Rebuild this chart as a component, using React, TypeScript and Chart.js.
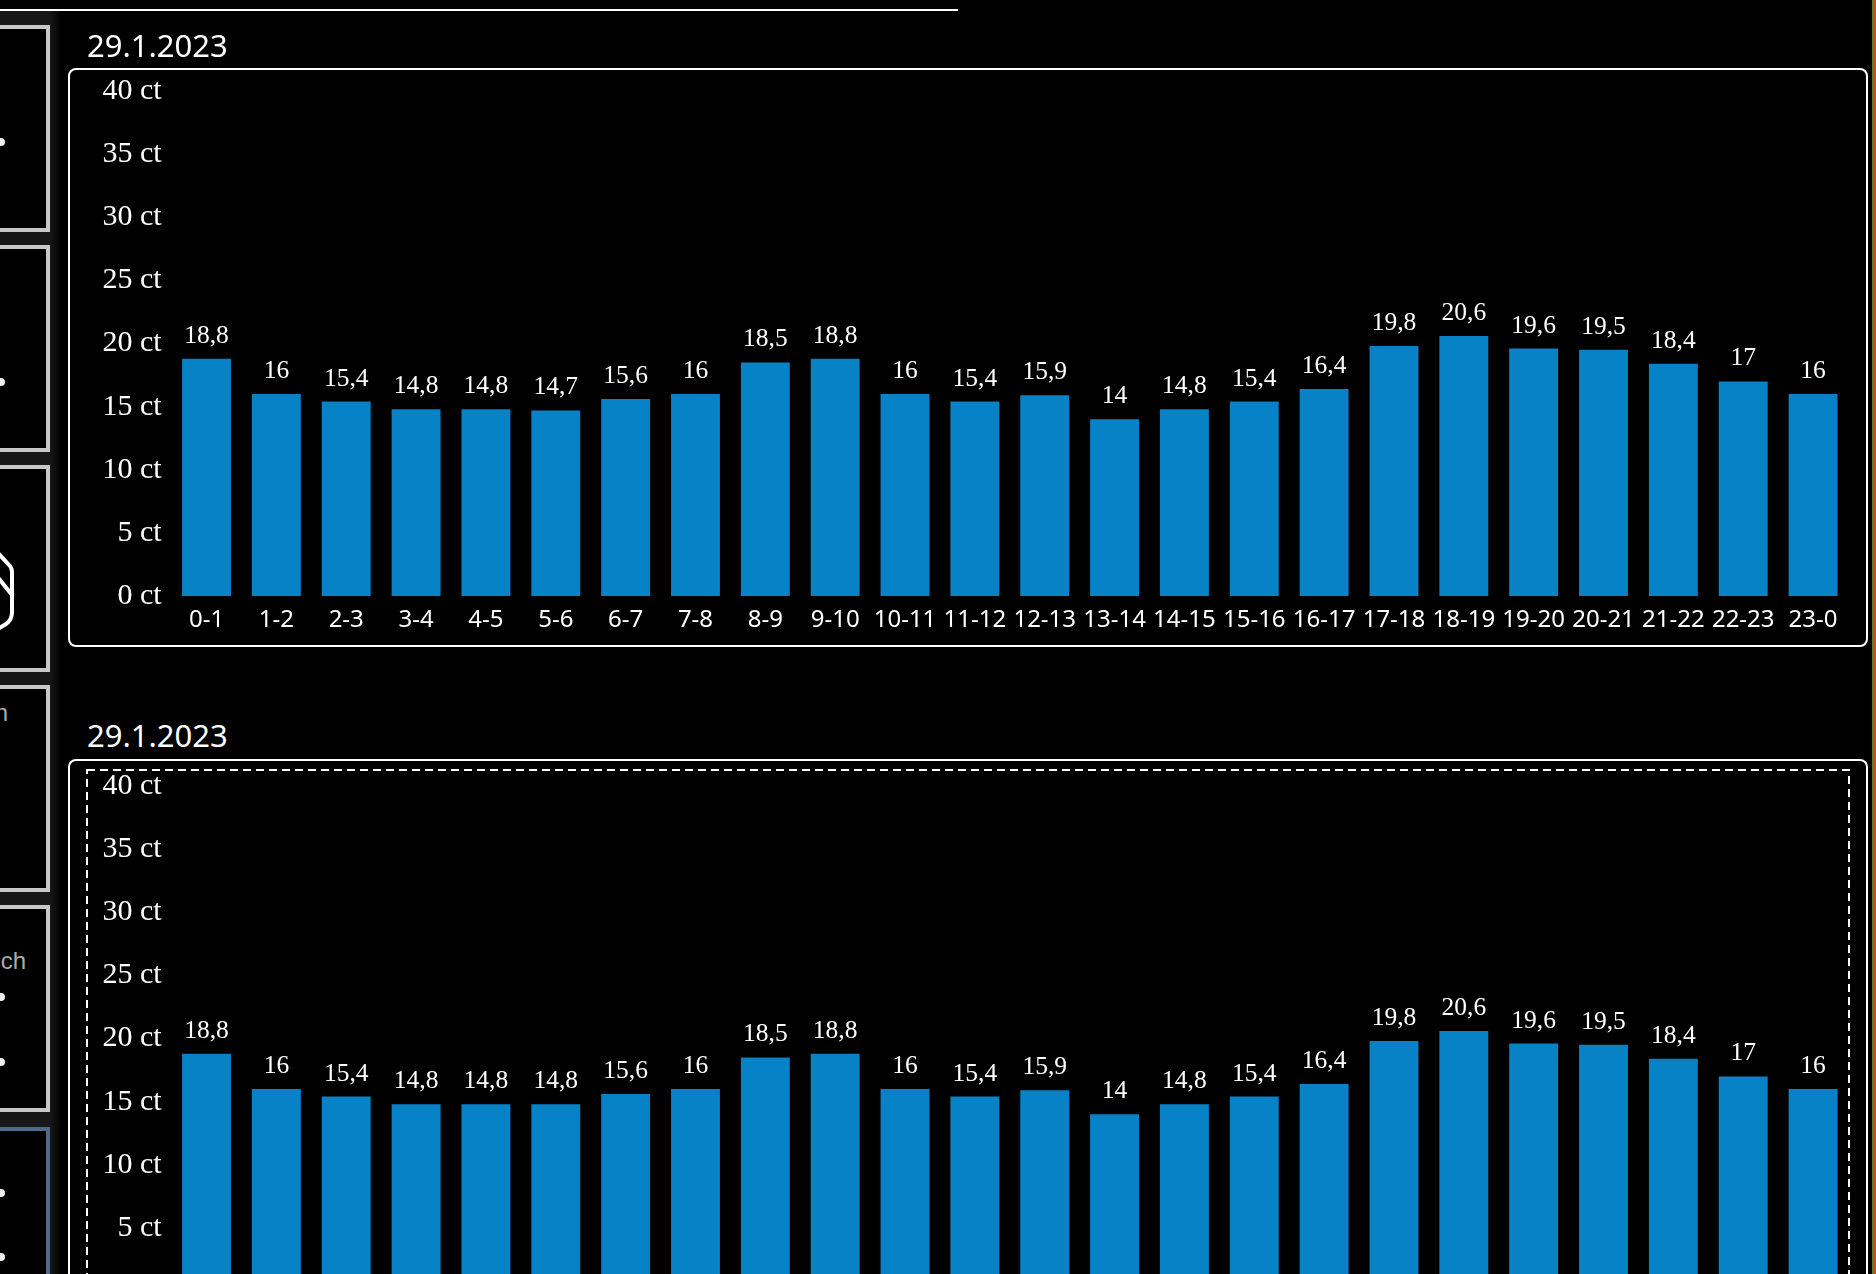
import React, { useEffect, useRef } from "react";
import { Chart, registerables } from "chart.js";

Chart.register(...registerables);

const hours = ["0-1","1-2","2-3","3-4","4-5","5-6","6-7","7-8","8-9","9-10","10-11","11-12","12-13","13-14","14-15","15-16","16-17","17-18","18-19","19-20","20-21","21-22","22-23","23-0"];
const pricesTop = [18.8,16,15.4,14.8,14.8,14.7,15.6,16,18.5,18.8,16,15.4,15.9,14,14.8,15.4,16.4,19.8,20.6,19.6,19.5,18.4,17,16];
const pricesBottom = [18.8,16,15.4,14.8,14.8,14.8,15.6,16,18.5,18.8,16,15.4,15.9,14,14.8,15.4,16.4,19.8,20.6,19.6,19.5,18.4,17,16];
const dateLabel = "29.1.2023";
const tickStep = 5;
const tickMax = 40;

const BAR = "#0782c6";
const SERIF = "'Liberation Serif', serif";
const SANS = "'Noto Sans', sans-serif";

const valueLabels = {
  id: "valueLabels",
  afterDatasetsDraw(chart: any) {
    const { ctx } = chart;
    const meta = chart.getDatasetMeta(0);
    const values = chart.data.datasets[0].data;
    ctx.save();
    ctx.fillStyle = "#fff";
    ctx.font = `25.5px ${SERIF}`;
    ctx.textAlign = "center";
    ctx.textBaseline = "alphabetic";
    meta.data.forEach((bar: any, i: number) => {
      ctx.fillText(String(values[i]).replace(".", ","), bar.x, bar.y - 16);
    });
    ctx.restore();
  },
};

function PriceChart({ values, top }: { values: number[]; top: number }) {
  const ref = useRef<HTMLCanvasElement>(null);
  useEffect(() => {
    const chart = new Chart(ref.current as HTMLCanvasElement, {
      type: "bar",
      data: {
        labels: hours,
        datasets: [{ data: values, backgroundColor: BAR, borderWidth: 0, barPercentage: 0.7, categoryPercentage: 1 }],
      },
      plugins: [valueLabels],
      options: {
        animation: false,
        responsive: false,
        layout: { padding: { top: 0, right: 1, left: 0, bottom: 0 } },
        plugins: { legend: { display: false }, tooltip: { enabled: false }, title: { display: false } },
        scales: {
          x: {
            grid: { display: false, drawTicks: false },
            border: { display: false },
            afterFit: (s: any) => { s.height = 48; },
            ticks: {
              color: "#fff",
              font: { family: "'Noto Sans'", size: 24 },
              padding: 10,
              maxRotation: 0,
              autoSkip: false,
            },
          },
          y: {
            min: 0,
            max: tickMax,
            grid: { display: false, drawTicks: false },
            border: { display: false },
            afterFit: (s: any) => { s.width = 84.6; },
            ticks: {
              stepSize: tickStep,
              color: "#fff",
              font: { family: "'Liberation Serif'", size: 30 },
              padding: 10,
              callback: (v: any) => `${v} ct`,
            },
          },
        },
      },
    });
    return () => chart.destroy();
  }, []);
  return (
    <canvas
      ref={ref}
      width={1762}
      height={581}
      style={{ position: "absolute", left: 87, top, width: 1762, height: 581, display: "block" }}
    />
  );
}

const abs = (s: React.CSSProperties): React.CSSProperties => ({ position: "absolute", ...s });

const cardTops = [25, 245, 465, 685, 905];
const dotYs = [142, 382, 997, 1062, 1193, 1257];

export default function App() {
  return (
    <div style={{ position: "fixed", left: 0, top: 0, width: 1876, height: 1274, background: "#000", overflow: "hidden" }}>
      <div style={abs({ left: 0, top: 11, width: 62, height: 1263, background: "linear-gradient(to right,#171717 0,#171717 50px,#000 62px)" })} />
      <div style={abs({ left: 0, top: 9, width: 958, height: 2, background: "#fff" })} />

      {cardTops.map((t) => (
        <div key={t} style={abs({ left: -10, top: t, width: 60, height: 207, boxSizing: "border-box", border: "4px solid #c8c8c8", background: "#000" })} />
      ))}
      <div style={abs({ left: -10, top: 1127, width: 60, height: 200, boxSizing: "border-box", border: "4px solid #4d6a8c", background: "#000" })} />
      {dotYs.map((y) => (
        <div key={y} style={abs({ left: -3, top: y - 4, width: 8, height: 8, borderRadius: 4, background: "#eee" })} />
      ))}
      <svg style={abs({ left: 0, top: 540, width: 20, height: 100 })} width={20} height={100}>
        <path d="M-4 11 L10 26 Q12 29 12 32 L12 72 Q12 80 6 84 L-4 90 M-4 35 L12 55" fill="none" stroke="#fff" strokeWidth={4} strokeLinejoin="round" />
      </svg>
      <div style={abs({ left: -60, top: 700, width: 68, textAlign: "right", color: "#aaa", font: "24px/26px 'Liberation Sans', sans-serif" })}>n</div>
      <div style={abs({ left: -60, top: 948, width: 86, textAlign: "right", color: "#aaa", font: "24px/26px 'Liberation Sans', sans-serif" })}>uch</div>

      <div style={abs({ left: 1872, top: 0, width: 1, height: 1274, background: "#5c7a2e" })} />
      <div style={abs({ left: 1873, top: 0, width: 3, height: 1274, background: "#cf4a20" })} />

      <div style={abs({ left: 68, top: 68, width: 1800, height: 579, boxSizing: "border-box", border: "2px solid #fff", borderRadius: 8 })} />
      <div style={abs({ left: 68, top: 759, width: 1800, height: 579, boxSizing: "border-box", border: "2px solid #fff", borderRadius: 8 })} />
      <svg style={abs({ left: 85, top: 768, width: 1766, height: 520 })} width={1766} height={520}>
        <rect x={2} y={2} width={1762} height={580} fill="none" stroke="#fff" strokeWidth={2} strokeDasharray="8 5" />
      </svg>

      <PriceChart values={pricesTop} top={63} />
      <PriceChart values={pricesBottom} top={758} />

      <div style={abs({ left: 87, top: 24, color: "#fff", font: `31px/42px ${SANS}` })}>{dateLabel}</div>
      <div style={abs({ left: 87, top: 714, color: "#fff", font: `31px/42px ${SANS}` })}>{dateLabel}</div>
    </div>
  );
}
